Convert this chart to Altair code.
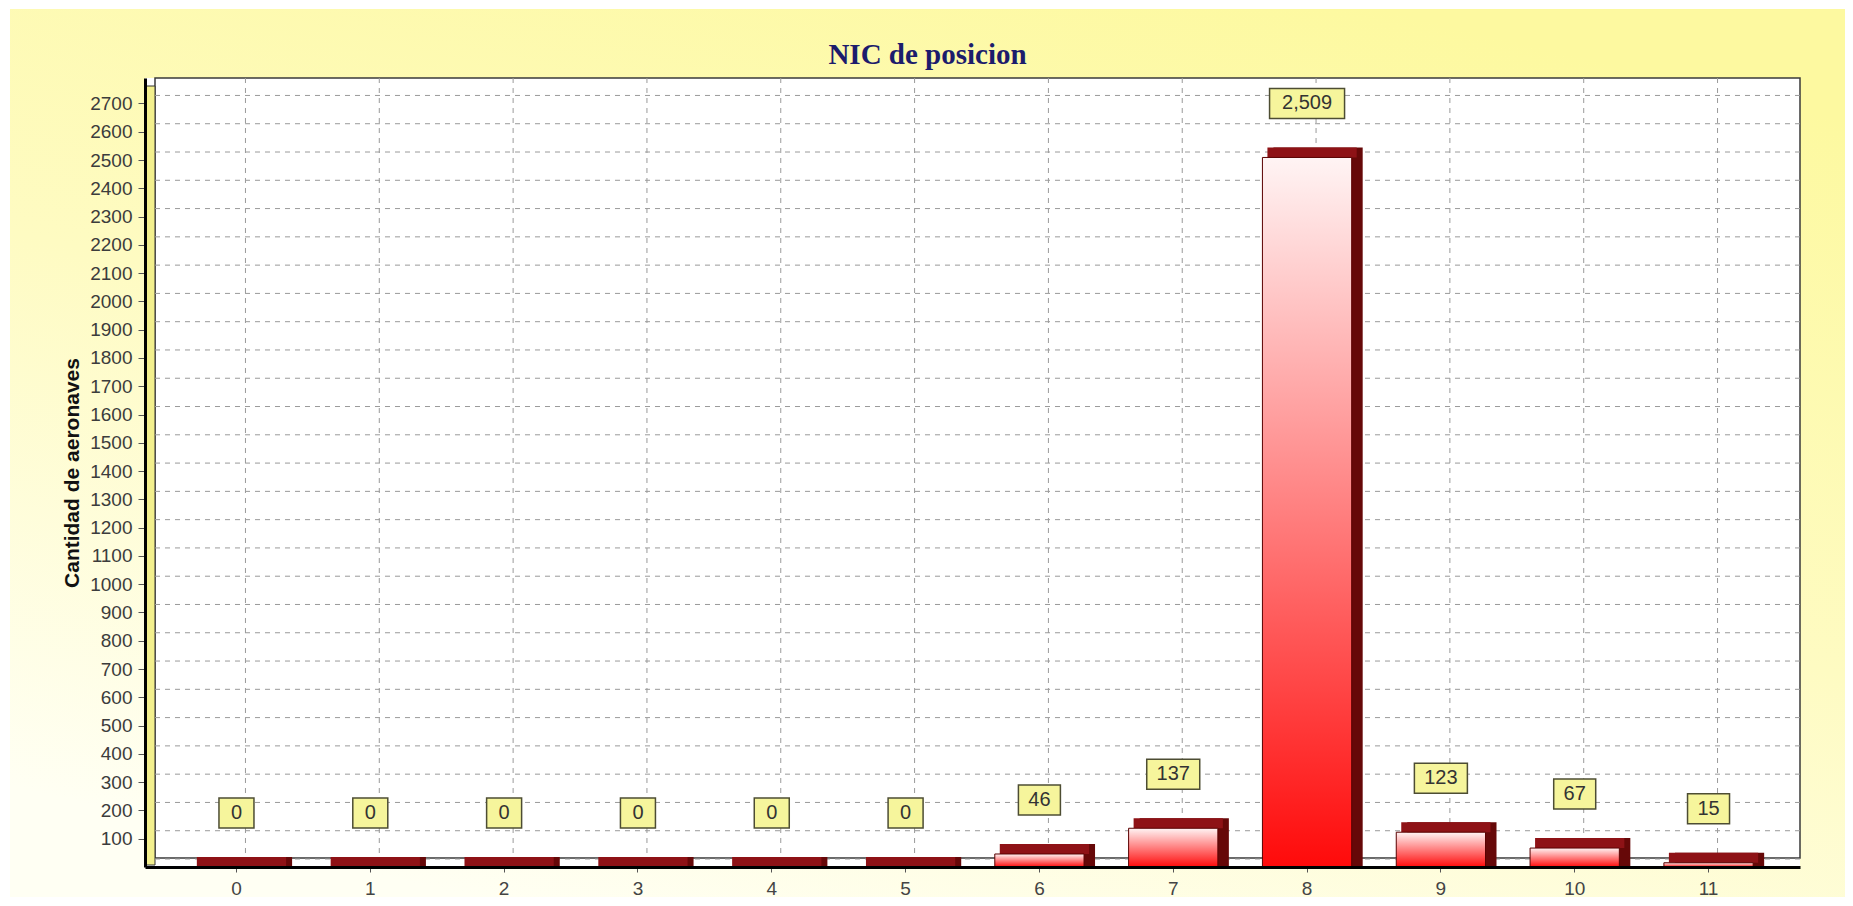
import altair as alt
import pandas as pd

# ---- data ----
categories = ["0", "1", "2", "3", "4", "5", "6", "7", "8", "9", "10", "11"]
counts = [0, 0, 0, 0, 0, 0, 46, 137, 2509, 123, 67, 15]
y_ticks = [100, 200, 300, 400, 500, 600, 700, 800, 900, 1000, 1100, 1200, 1300,
           1400, 1500, 1600, 1700, 1800, 1900, 2000, 2100, 2200, 2300, 2400,
           2500, 2600, 2700]
grid_values = [0] + y_ticks

W, H = 1655, 789
YMAX = 2790
FONT = "Liberation Sans"

df = pd.DataFrame({"cat": categories, "value": counts})
gdf = pd.DataFrame({"v": grid_values})
one = pd.DataFrame({"k": [0]})

xscale = alt.Scale(domain=categories, paddingInner=0.333, paddingOuter=0.35)
yscale = alt.Scale(domain=[0, YMAX], nice=False, zero=True)

xaxis = alt.Axis(title=None, labelFontSize=19, labelColor="#444444", labelFont=FONT,
                 labelPadding=7, tickSize=5, tickColor="#555555",
                 domainColor="#000000", domainWidth=3, grid=False, labelAngle=0,
                 zindex=1)
yaxis = alt.Axis(title="Cantidad de aeronaves", values=y_ticks, format="d",
                 labelFontSize=19, labelColor="#3c3c3c", labelFont=FONT,
                 labelPadding=6, tickSize=7, tickColor="#555555",
                 domainColor="#000000", domainWidth=3, grid=False, titleFont=FONT,
                 titleFontSize=21, titleFontWeight="bold", titleColor="#111111",
                 titlePadding=7, zindex=1)

X = alt.X("cat:O", scale=xscale, axis=xaxis)
Yv = alt.Y("value:Q", scale=yscale, axis=yaxis)

bg_grad = alt.Gradient(
    gradient="linear", x1=0.75, y1=0, x2=0.25, y2=1,
    stops=[alt.GradientStop(offset=0, color="#fdf9a0"),
           alt.GradientStop(offset=0.5, color="#fefbc2"),
           alt.GradientStop(offset=1, color="#fffff3")])

background = alt.Chart(one).mark_rect(fill=bg_grad).encode(
    x=alt.value(-135), x2=alt.value(1700), y=alt.value(-69), y2=alt.value(819))

plot_bg = alt.Chart(one).mark_rect(fill="#ffffff").encode(
    x=alt.value(0), x2=alt.value(W), y=alt.value(0), y2=alt.value(H))

back_wall = alt.Chart(one).mark_rect(fill="#ffffff", fillOpacity=0, stroke="#3a3a3a",
                                     strokeWidth=1.5).encode(
    x=alt.value(10), x2=alt.value(W), y=alt.value(0), y2=alt.value(H - 9))

left_wall = alt.Chart(one).mark_rect(fill="#f3f08e", stroke="#333333",
                                     strokeWidth=1).encode(
    x=alt.value(1.5), x2=alt.value(10), y=alt.value(8), y2=alt.value(H - 2))

hgrid = alt.Chart(gdf).mark_rule(color="#9a9a9a", strokeWidth=1, strokeDash=[5, 5],
                                 yOffset=-8).encode(
    y=alt.Y("v:Q", scale=yscale, axis=yaxis), x=alt.value(10), x2=alt.value(W))

vgrid = alt.Chart(df).mark_rule(color="#9a9a9a", strokeWidth=1, strokeDash=[5, 5],
                                xOffset=9).encode(
    x=X, y=alt.value(0), y2=alt.value(H - 9))

# right side face of the pseudo-3D bars
side_bars = alt.Chart(df).mark_bar(color="#660808", xOffset=11, x2Offset=11,
                                   yOffset=-10, y2Offset=0).encode(
    x=X, y=Yv, y2=alt.datum(0))

# top face of the pseudo-3D bars
top_bars = alt.Chart(df).mark_bar(color="#8e1216", xOffset=5, x2Offset=5,
                                  yOffset=-10, y2Offset=0).encode(
    x=X, y=Yv, y2=alt.Y2("value:Q"))

bar_grad = alt.Gradient(
    gradient="linear", x1=0, y1=0, x2=0, y2=1,
    stops=[alt.GradientStop(offset=0, color="#fff4f4"),
           alt.GradientStop(offset=1, color="#ff0a0a")])

front_bars = alt.Chart(df).mark_bar(fill=bar_grad, stroke="#5a0000",
                                    strokeWidth=1).encode(x=X, y=Yv)

label_base = alt.Chart(df).transform_calculate(
    label="format(datum.value, ',')"
).transform_calculate(
    bw="max(35, 20 + 11 * length(datum.label))"
)

boxes = label_base.mark_bar(fill="#f6f59c", stroke="#4d4d33", strokeWidth=1.5,
                            yOffset=-69, y2Offset=-39).encode(
    x=X, y=Yv, y2=alt.Y2("value:Q"),
    size=alt.Size("bw:Q", scale=None, legend=None))

texts = label_base.mark_text(dy=-54, fontSize=20, font=FONT, color="#333333",
                             baseline="middle").encode(
    x=X, y=Yv, text="label:N")

chart = alt.layer(
    background, plot_bg, back_wall, left_wall, hgrid, vgrid,
    side_bars, top_bars, front_bars, boxes, texts
).properties(
    width=W, height=H,
    padding={"left": 2, "top": 1, "right": 0, "bottom": 0},
    title=alt.Title("NIC de posicion", font="Liberation Serif", fontSize=29,
                    fontWeight="bold", color="#1c1c6c", anchor="middle",
                    frame="bounds", baseline="alphabetic", offset=-84),
).configure_view(stroke=None)

chart.save("out.html", embed_options={"renderer": "svg", "actions": False})
